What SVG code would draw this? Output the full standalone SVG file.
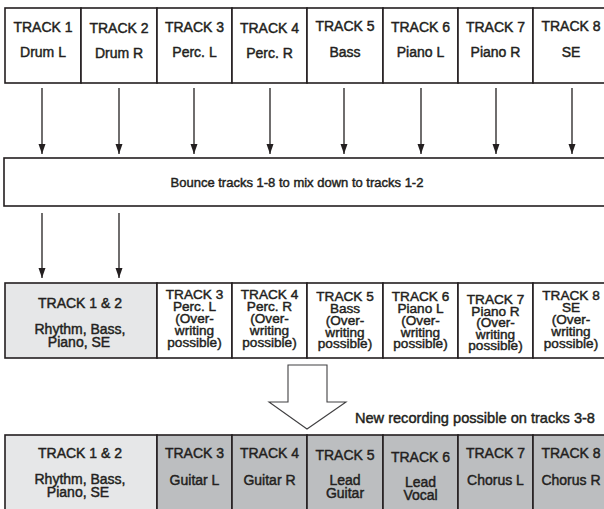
<svg xmlns="http://www.w3.org/2000/svg" width="604" height="509" viewBox="0 0 604 509">
<style>
.cell{fill:#ffffff;stroke:#231f20;stroke-width:1.6}
.lg{fill:#e6e7e8;stroke:#231f20;stroke-width:1.6}
.dg{fill:#bcbec0;stroke:#231f20;stroke-width:1.6}
text{font-family:"Liberation Sans",Arial,Helvetica,sans-serif;font-size:14px;fill:#231f20;text-anchor:middle;stroke:#231f20;stroke-width:0.45}
.sm{font-size:13px}
.tt{font-size:13.6px}
.lbl{font-size:14.6px;text-anchor:end}
.conn{stroke:#231f20;stroke-width:1.3;fill:none}
.hollow{fill:#ffffff;stroke:#414042;stroke-width:1.1}
</style>
<defs>
<marker id="ah" markerUnits="userSpaceOnUse" markerWidth="10" markerHeight="8" refX="10" refY="3.5" orient="auto">
<path d="M0,0 L10,3.5 L0,7 z" fill="#231f20"/>
</marker>
</defs>
<rect width="604" height="509" fill="#ffffff"/>

<!-- Top row -->
<g id="t1"><rect class="cell" x="5" y="8" width="76" height="75"/><text x="43" y="32">TRACK 1</text><text x="43" y="57">Drum L</text></g>
<g id="t2"><rect class="cell" x="81" y="8" width="76" height="75"/><text x="119" y="33">TRACK 2</text><text x="119" y="58">Drum R</text></g>
<g id="t3"><rect class="cell" x="157" y="8" width="75" height="75"/><text x="194.5" y="32">TRACK 3</text><text x="194.5" y="57">Perc. L</text></g>
<g id="t4"><rect class="cell" x="232" y="8" width="75" height="75"/><text x="269.5" y="33">TRACK 4</text><text x="269.5" y="58">Perc. R</text></g>
<g id="t5"><rect class="cell" x="307" y="8" width="76" height="75"/><text x="345" y="31">TRACK 5</text><text x="345" y="57">Bass</text></g>
<g id="t6"><rect class="cell" x="383" y="8" width="75" height="75"/><text x="420.5" y="32">TRACK 6</text><text x="420.5" y="57">Piano L</text></g>
<g id="t7"><rect class="cell" x="458" y="8" width="75" height="75"/><text x="495.5" y="32">TRACK 7</text><text x="495.5" y="57">Piano R</text></g>
<g id="t8"><rect class="cell" x="533" y="8" width="76" height="75"/><text x="571" y="31">TRACK 8</text><text x="571" y="57">SE</text></g>

<!-- Bounce box -->
<g id="bounce"><rect class="cell" x="4" y="158" width="606" height="48"/><text class="sm" x="297" y="187">Bounce tracks 1-8 to mix down to tracks 1-2</text></g>

<!-- Middle row -->
<g id="m12"><rect class="lg" x="5" y="283" width="152" height="75"/><text x="80" y="308">TRACK 1 &amp; 2</text><text x="80" y="334">Rhythm, Bass,</text><text x="79" y="347">Piano, SE</text></g>
<g id="m3"><rect class="cell" x="157" y="283" width="75" height="75"/><text class="tt" x="194.5" y="299">TRACK 3</text><text class="tt" x="194.5" y="311">Perc. L</text><text class="tt" x="194.5" y="323">(Over-</text><text class="tt" x="194.5" y="335">writing</text><text class="tt" x="194.5" y="347">possible)</text></g>
<g id="m4"><rect class="cell" x="232" y="283" width="75" height="75"/><text class="tt" x="269.5" y="299">TRACK 4</text><text class="tt" x="269.5" y="311">Perc. R</text><text class="tt" x="269.5" y="323">(Over-</text><text class="tt" x="269.5" y="335">writing</text><text class="tt" x="269.5" y="347">possible)</text></g>
<g id="m5"><rect class="cell" x="307" y="283" width="76" height="75"/><text class="tt" x="345" y="301">TRACK 5</text><text class="tt" x="345" y="313">Bass</text><text class="tt" x="345" y="325">(Over-</text><text class="tt" x="345" y="337">writing</text><text class="tt" x="345" y="348">possible)</text></g>
<g id="m6"><rect class="cell" x="383" y="283" width="75" height="75"/><text class="tt" x="420.5" y="301">TRACK 6</text><text class="tt" x="420.5" y="313">Piano L</text><text class="tt" x="420.5" y="325">(Over-</text><text class="tt" x="420.5" y="337">writing</text><text class="tt" x="420.5" y="348">possible)</text></g>
<g id="m7"><rect class="cell" x="458" y="283" width="75" height="75"/><text class="tt" x="495.5" y="304">TRACK 7</text><text class="tt" x="495.5" y="316">Piano R</text><text class="tt" x="495.5" y="327">(Over-</text><text class="tt" x="495.5" y="339">writing</text><text class="tt" x="495.5" y="350">possible)</text></g>
<g id="m8"><rect class="cell" x="533" y="283" width="76" height="75"/><text class="tt" x="571" y="300">TRACK 8</text><text class="tt" x="571" y="312">SE</text><text class="tt" x="571" y="324">(Over-</text><text class="tt" x="571" y="336">writing</text><text class="tt" x="571" y="348">possible)</text></g>

<!-- Hollow arrow -->
<g id="bigarrow"><path class="hollow" d="M288,365 L327,365 L327,402 L346,402 L307,429 L269,402 L288,402 Z"/></g>
<g id="note"><text class="lbl" x="595" y="423">New recording possible on tracks 3-8</text></g>

<!-- Bottom row -->
<g id="b12"><rect class="lg" x="5" y="435" width="152" height="80"/><text x="80" y="458">TRACK 1 &amp; 2</text><text x="80" y="484">Rhythm, Bass,</text><text x="78" y="497">Piano, SE</text></g>
<g id="b3"><rect class="dg" x="157" y="435" width="75" height="80"/><text x="194.5" y="458">TRACK 3</text><text x="194.5" y="485">Guitar L</text></g>
<g id="b4"><rect class="dg" x="232" y="435" width="75" height="80"/><text x="269.5" y="458">TRACK 4</text><text x="269.5" y="485">Guitar R</text></g>
<g id="b5"><rect class="dg" x="307" y="435" width="76" height="80"/><text x="345" y="460">TRACK 5</text><text x="345" y="485">Lead</text><text x="345" y="498">Guitar</text></g>
<g id="b6"><rect class="dg" x="383" y="435" width="75" height="80"/><text x="420.5" y="462">TRACK 6</text><text x="420.5" y="487">Lead</text><text x="420.5" y="500">Vocal</text></g>
<g id="b7"><rect class="dg" x="458" y="435" width="75" height="80"/><text x="495.5" y="458">TRACK 7</text><text x="495.5" y="485">Chorus L</text></g>
<g id="b8"><rect class="dg" x="533" y="435" width="76" height="80"/><text x="571" y="458">TRACK 8</text><text x="571" y="485">Chorus R</text></g>

<!-- Connectors -->
<g id="connectors">
<line class="conn" x1="42" y1="88" x2="42" y2="154" marker-end="url(#ah)"/>
<line class="conn" x1="119" y1="88" x2="119" y2="154" marker-end="url(#ah)"/>
<line class="conn" x1="194" y1="88" x2="194" y2="154" marker-end="url(#ah)"/>
<line class="conn" x1="270" y1="88" x2="270" y2="154" marker-end="url(#ah)"/>
<line class="conn" x1="344" y1="88" x2="344" y2="154" marker-end="url(#ah)"/>
<line class="conn" x1="421" y1="88" x2="421" y2="154" marker-end="url(#ah)"/>
<line class="conn" x1="496" y1="88" x2="496" y2="154" marker-end="url(#ah)"/>
<line class="conn" x1="572" y1="88" x2="572" y2="154" marker-end="url(#ah)"/>
<line class="conn" x1="42" y1="213" x2="42" y2="278" marker-end="url(#ah)"/>
<line class="conn" x1="119" y1="213" x2="119" y2="278" marker-end="url(#ah)"/>
</g>
</svg>
